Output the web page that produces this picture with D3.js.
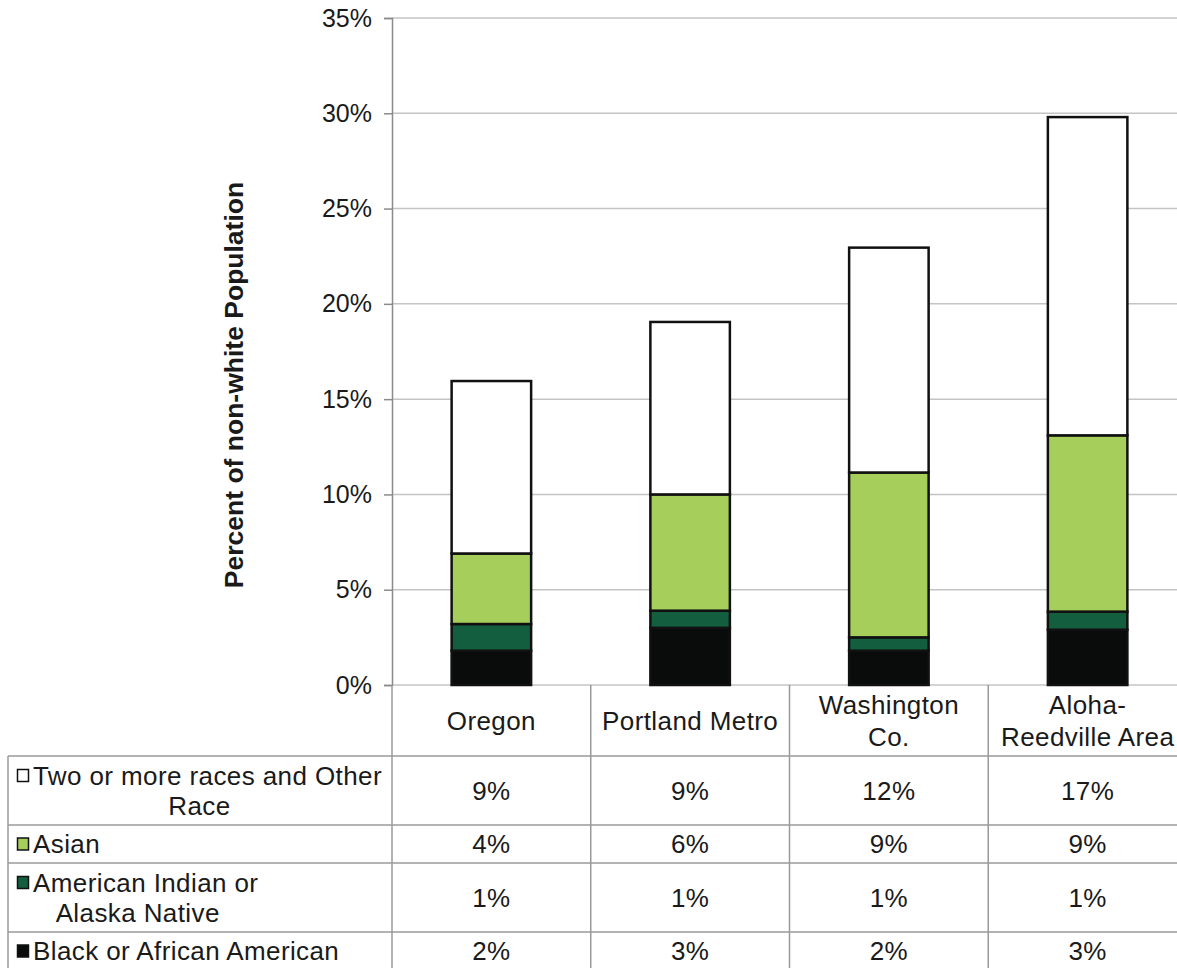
<!DOCTYPE html>
<html>
<head>
<meta charset="utf-8">
<script src="https://cdn.jsdelivr.net/npm/d3@7"></script>
<style>
  html, body { margin: 0; padding: 0; background: #fff; overflow: hidden; }
  svg { display: block; font-family: "Liberation Sans", Arial, sans-serif; }
</style>
</head>
<body>
<svg id="chart" width="1177" height="968"></svg>
<script>
// categories (header lines of the table)
const regions = ["Oregon", "Portland Metro", "Washington Co.", "Aloha-Reedville Area"];
const regionLines = [["Oregon"], ["Portland Metro"], ["Washington", "Co."], ["Aloha-", "Reedville Area"]];

// series, bottom to top in the stack
const seriesKeys = ["black", "aian", "asian", "other"];
const seriesLines = {
    other: ["Two or more races and Other", "Race"],
    asian: ["Asian"],
    aian: ["American Indian or", "Alaska Native"],
    black: ["Black or African American"]
};
const seriesColors = { black: "#0a0c0b", aian: "#135e3e", asian: "#a6ce5a", other: "#ffffff" };

// values in percent
const black = [1.8, 3.0, 1.8, 2.9];
const aian = [1.4, 0.9, 0.7, 0.95];
const asian = [3.7, 6.1, 8.65, 9.25];
const other = [9.05, 9.05, 11.8, 16.7];

const yTicks = [0, 5, 10, 15, 20, 25, 30, 35];

const svg = d3.select("#chart");
const margin = { left: 392, top: 18 };
const plotBottom = 685;
const plotRight = 1187;

const rows = regions.map((r, i) => ({
    region: r, black: black[i], aian: aian[i], asian: asian[i], other: other[i]
}));
const stacked = d3.stack().keys(seriesKeys)(rows);

const x = d3.scaleBand().domain(regions).range([margin.left, plotRight]).paddingInner(0).paddingOuter(0);
const y = d3.scaleLinear().domain([0, 35]).range([plotBottom, margin.top]);
const barW = x.bandwidth() * 0.4;

// gridlines
svg.append("g")
    .selectAll("line")
    .data(yTicks)
    .join("line")
    .attr("x1", margin.left)
    .attr("x2", plotRight)
    .attr("y1", d => y(d))
    .attr("y2", d => y(d))
    .attr("stroke", "#c4c4c4")
    .attr("stroke-width", 1.5);

// y axis
const yAxis = svg.append("g")
    .attr("transform", `translate(${margin.left},0)`)
    .call(d3.axisLeft(y).tickValues(yTicks).tickFormat(d => d + "%").tickSize(8).tickPadding(12));
yAxis.select(".domain").attr("stroke", "#8a8a8a").attr("stroke-width", 1.5);
yAxis.selectAll(".tick line").attr("stroke", "#8a8a8a").attr("stroke-width", 1.5);
yAxis.selectAll(".tick text")
    .attr("font-size", 25)
    .attr("font-family", "Liberation Sans, Arial, sans-serif")
    .attr("fill", "#1a1a1a");

// y label
svg.append("text")
    .attr("transform", `translate(243,385) rotate(-90)`)
    .attr("text-anchor", "middle")
    .attr("font-size", 26.5)
    .attr("font-weight", "bold")
    .attr("fill", "#1a1a1a")
    .text("Percent of non-white Population");

// bars
svg.append("g")
    .selectAll("g")
    .data(stacked)
    .join("g")
    .attr("fill", d => seriesColors[d.key])
    .selectAll("rect")
    .data(d => d)
    .join("rect")
    .attr("x", d => x(d.data.region) + (x.bandwidth() - barW) / 2)
    .attr("width", barW)
    .attr("y", d => y(d[1]))
    .attr("height", d => y(d[0]) - y(d[1]))
    .attr("stroke", "#111")
    .attr("stroke-width", 2.5);

// data table
const lineH = 30;
const rowH = n => n > 1 ? 69 : 38;
const tableLeft = 8;
const table = svg.append("g").attr("letter-spacing", 0.4);
const lineColor = "#9a9a9a";
const fs = 26;

// header row
const headerH = 71;
regionLines.forEach((lines, i) => {
    const cx = x(regions[i]) + x.bandwidth() / 2;
    const cy = plotBottom + headerH / 2;
    lines.forEach((t, j) => {
        table.append("text")
            .attr("x", cx)
            .attr("y", cy + (j - (lines.length - 1) / 2) * (lineH + 2))
            .attr("dy", "0.35em")
            .attr("text-anchor", "middle")
            .attr("font-size", fs)
            .attr("fill", "#1a1a1a")
            .text(t);
    });
});

const tableOrder = ["other", "asian", "aian", "black"];
const values = { black, aian, asian, other };
let yy = plotBottom + headerH;
const rowTops = [];
tableOrder.forEach(key => {
    const lines = seriesLines[key];
    const h = rowH(lines.length);
    rowTops.push(yy);
    const cy = yy + h / 2;

    // label with key
    const g = table.append("g");
    const first = g.append("text")
        .attr("x", 33)
        .attr("y", cy - (lines.length - 1) / 2 * lineH)
        .attr("dy", "0.35em")
        .attr("font-size", fs)
        .attr("fill", "#1a1a1a")
        .text(lines[0]);
    const firstW = first.node().getComputedTextLength();
    const center = (17 + 33 + firstW) / 2;
    g.append("rect")
        .attr("x", 17.5)
        .attr("y", cy - (lines.length - 1) / 2 * lineH - 6)
        .attr("width", 11)
        .attr("height", 12)
        .attr("fill", seriesColors[key])
        .attr("stroke", "#111")
        .attr("stroke-width", 1.5);
    lines.slice(1).forEach((t, j) => {
        g.append("text")
            .attr("x", center)
            .attr("y", cy - (lines.length - 1) / 2 * lineH + (j + 1) * lineH)
            .attr("dy", "0.35em")
            .attr("text-anchor", "middle")
            .attr("font-size", fs)
            .attr("fill", "#1a1a1a")
            .text(t);
    });

    // values
    regions.forEach((r, i) => {
        table.append("text")
            .attr("x", x(r) + x.bandwidth() / 2)
            .attr("y", cy)
            .attr("dy", "0.35em")
            .attr("text-anchor", "middle")
            .attr("font-size", fs)
            .attr("fill", "#1a1a1a")
            .text(d3.format(".0f")(values[key][i]) + "%");
    });
    yy += h;
});
rowTops.push(yy);

// table grid
rowTops.forEach(t => {
    table.append("line")
        .attr("x1", tableLeft).attr("x2", plotRight)
        .attr("y1", t).attr("y2", t)
        .attr("stroke", lineColor).attr("stroke-width", 1.5);
});
table.append("line")
    .attr("x1", tableLeft).attr("x2", tableLeft)
    .attr("y1", rowTops[0]).attr("y2", yy)
    .attr("stroke", lineColor).attr("stroke-width", 1.5);
regions.forEach((r, i) => {
    table.append("line")
        .attr("x1", x(r)).attr("x2", x(r))
        .attr("y1", plotBottom).attr("y2", yy)
        .attr("stroke", lineColor).attr("stroke-width", 1.5);
});
table.append("line")
    .attr("x1", plotRight).attr("x2", plotRight)
    .attr("y1", plotBottom).attr("y2", yy)
    .attr("stroke", lineColor).attr("stroke-width", 1.5);
</script>
</body>
</html>
